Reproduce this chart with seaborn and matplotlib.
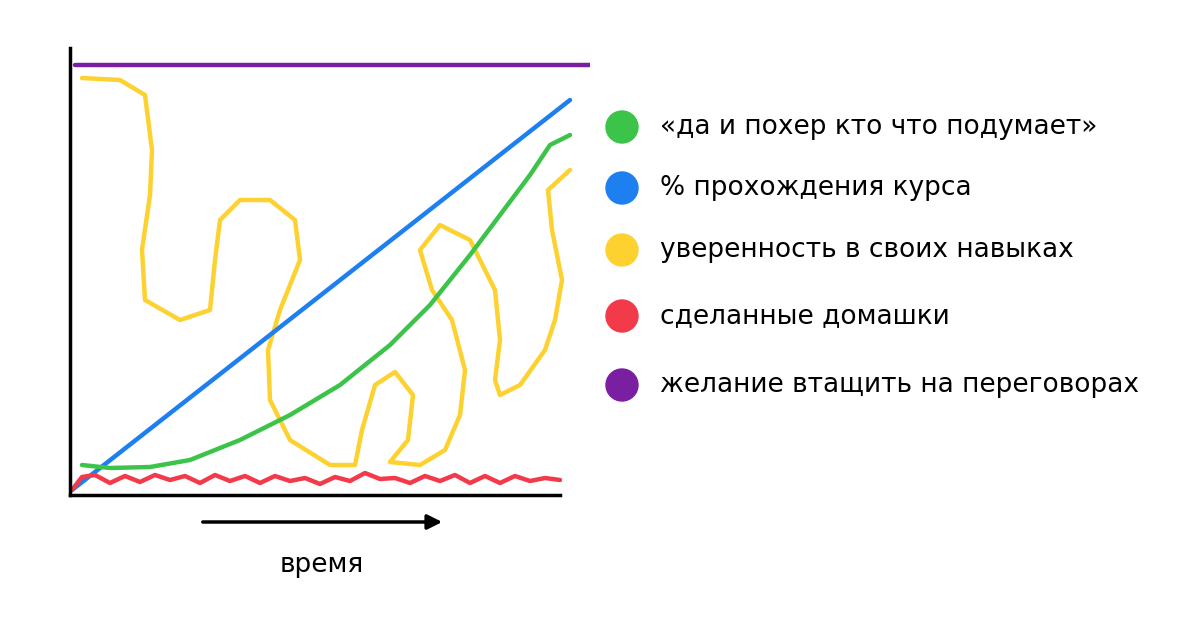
import matplotlib
matplotlib.use("Agg")
import matplotlib.pyplot as plt
import seaborn as sns

sns.set_theme(style="white")
plt.rcParams['font.family'] = ['DejaVu Sans']

# data in pixel-like units (x: time, y: level)
purple_x = [5, 520]; purple_y = [430, 430]
blue_x = [2, 500]; blue_y = [5, 395]
green_x = [12, 40, 80, 120, 170, 220, 270, 320, 360, 400, 430, 460, 480, 500]
green_y = [30, 27, 28, 35, 55, 80, 110, 150, 190, 240, 280, 320, 350, 360]
red_x = [2, 12, 25, 40, 55, 70, 85, 100, 115, 130, 145, 160, 175, 190, 205, 220, 235, 250, 265, 280, 295, 310, 325, 340, 355, 370, 385, 400, 415, 430, 445, 460, 475, 490]
red_y = [5, 18, 20, 12, 19, 13, 20, 15, 19, 12, 20, 14, 19, 12, 19, 14, 17, 11, 18, 14, 22, 16, 17, 12, 19, 14, 20, 12, 19, 12, 19, 14, 17, 15]
yel_x = [12, 50, 75, 82, 80, 72, 75, 110, 140, 145, 150, 170, 200, 225, 230, 210, 198, 200, 220, 260, 285, 292, 305, 325, 343, 338, 320, 350, 375, 390, 395, 382, 362, 350, 370, 400, 425, 430, 425, 430, 450, 475, 485, 492, 482, 478, 500]
yel_y = [417, 415, 400, 345, 300, 245, 195, 175, 185, 235, 275, 295, 295, 275, 235, 185, 145, 95, 55, 30, 30, 65, 110, 123, 100, 55, 33, 30, 45, 80, 125, 175, 205, 245, 270, 255, 205, 155, 115, 100, 110, 145, 175, 215, 265, 305, 325]

fig = plt.figure(figsize=(11.99, 6.22), dpi=100)
ax = fig.add_axes([70/1199, 127/622, 520/1199, 447/622])
lw = 3.2
kw = dict(ax=ax, sort=False, estimator=None, lw=lw)
sns.lineplot(x=purple_x, y=purple_y, color="#7a1fa2", **kw)
sns.lineplot(x=yel_x, y=yel_y, color="#fdd230", **kw)
sns.lineplot(x=blue_x, y=blue_y, color="#1e7ff0", **kw)
sns.lineplot(x=green_x, y=green_y, color="#3cc44a", **kw)
sns.lineplot(x=red_x, y=red_y, color="#f23a4a", **kw)
for l in ax.lines:
    l.set_solid_joinstyle("round"); l.set_solid_capstyle("round")
ax.set_xlim(0, 520); ax.set_ylim(0, 447)
ax.set_xticks([]); ax.set_yticks([])
for s in ["top", "right"]:
    ax.spines[s].set_visible(False)
for s in ["left", "bottom"]:
    ax.spines[s].set_color("black"); ax.spines[s].set_linewidth(2.5)
ax.spines["bottom"].set_bounds(0, 490)

ax.annotate("", xy=(445/1199, 1-522/622), xytext=(200/1199, 1-522/622),
            xycoords="figure fraction",
            arrowprops=dict(arrowstyle="-|>", color="black", lw=2.5, mutation_scale=22))
fig.text(322/1199, 1-565/622, "время", ha="center", va="center", fontsize=19, color="black")

labels = ["«да и похер кто что подумает»", "% прохождения курса",
          "уверенность в своих навыках", "сделанные домашки",
          "желание втащить на переговорах"]
colors = ["#3cc44a", "#1e7ff0", "#fdd230", "#f23a4a", "#7a1fa2"]
ys = [127, 188, 250, 316, 385]
for lab, c, y in zip(labels, colors, ys):
    fig.patches.append(matplotlib.patches.Circle((622, 622 - y), 16,
                       transform=None, color=c, figure=fig))
    fig.text(660/1199, 1-y/622, lab, ha="left", va="center", fontsize=19, color="black")

fig.savefig("out.png", dpi=100)
